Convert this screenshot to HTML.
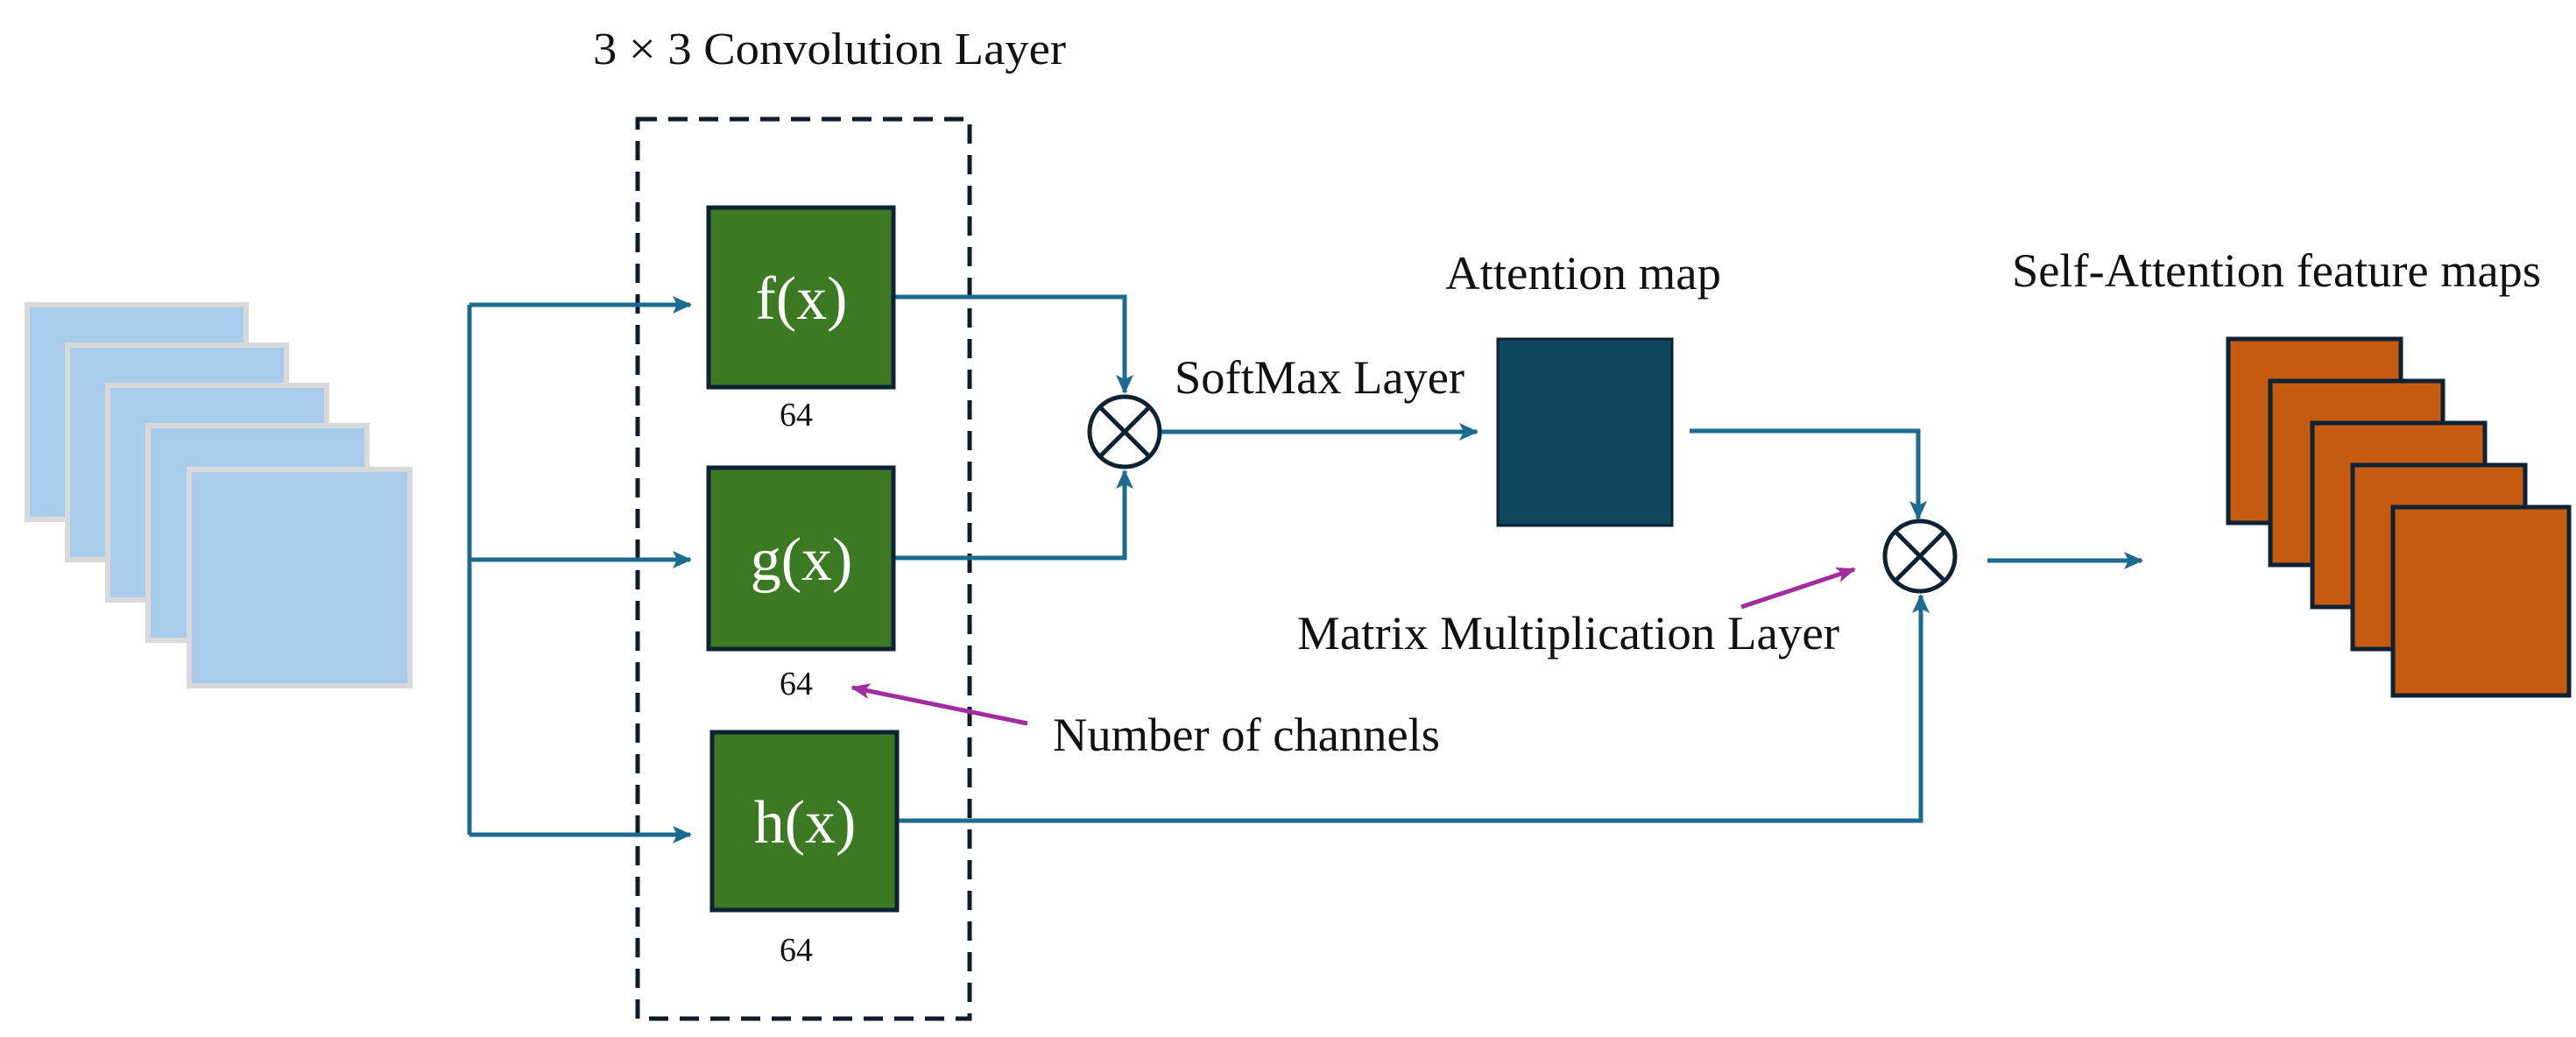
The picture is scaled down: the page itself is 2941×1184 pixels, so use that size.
<!DOCTYPE html>
<html><head><meta charset="utf-8"><style>html,body{margin:0;padding:0;background:#fff}svg{display:block}</style></head>
<body>
<svg width="2941" height="1184" viewBox="0 0 2941 1184" xmlns="http://www.w3.org/2000/svg" font-family="Liberation Serif, serif">
<defs>
<marker id="ab2" markerWidth="22" markerHeight="20" refX="20" refY="10" orient="auto" markerUnits="userSpaceOnUse"><path d="M0,0 L22,10 L0,20 L5,10 z" fill="#1b6a8f"/></marker>
<marker id="am" markerWidth="22" markerHeight="18" refX="20" refY="9" orient="auto" markerUnits="userSpaceOnUse"><path d="M0,0 L22,9 L0,18 L5,9 z" fill="#a12ca0"/></marker>
</defs>
<g fill="#a9cbec" stroke="#d9d9d9" stroke-width="6">
<rect x="31" y="348" width="250" height="245"/>
<rect x="77" y="394" width="250" height="245"/>
<rect x="123" y="440" width="250" height="245"/>
<rect x="169" y="486" width="250" height="245"/>
<rect x="216" y="536" width="252" height="247"/>
</g>
<text x="677" y="73" font-size="52" textLength="540" lengthAdjust="spacingAndGlyphs" fill="#111">3 × 3 Convolution Layer</text>
<rect x="728" y="136" width="379" height="1027" fill="none" stroke="#0d1b2a" stroke-width="5" stroke-dasharray="22,13"/>
<g stroke="#1b6a8f" stroke-width="5" fill="none">
<path d="M536,348 V953"/>
<path d="M536,348 H788" marker-end="url(#ab2)"/>
<path d="M536,639 H788" marker-end="url(#ab2)"/>
<path d="M536,953 H788" marker-end="url(#ab2)"/>
<path d="M1020,339 H1284 V448" marker-end="url(#ab2)"/>
<path d="M1020,637 H1284 V538" marker-end="url(#ab2)"/>
<path d="M1326,493 H1686" marker-end="url(#ab2)"/>
<path d="M1929,492 H2190 V592" marker-end="url(#ab2)"/>
<path d="M1024,937 H2193 V680" marker-end="url(#ab2)"/>
<path d="M2269,640 H2445" marker-end="url(#ab2)"/>
</g>
<g fill="#3b7a23" stroke="#0d2233" stroke-width="5">
<rect x="809" y="237" width="211" height="205"/>
<rect x="809" y="534" width="211" height="207"/>
<rect x="813" y="836" width="211" height="203"/>
</g>
<g fill="#fff" font-size="70" text-anchor="middle">
<text x="915" y="364">f(x)</text>
<text x="915" y="662">g(x)</text>
<text x="919" y="962">h(x)</text>
</g>
<g fill="#111" font-size="38" text-anchor="middle">
<text x="909" y="486">64</text>
<text x="909" y="793">64</text>
<text x="909" y="1097">64</text>
</g>
<g fill="#fff" stroke="#0d2233" stroke-width="5">
<circle cx="1284" cy="493" r="40"/>
<path d="M1256,465 L1312,521 M1312,465 L1256,521"/>
<circle cx="2192" cy="635" r="40"/>
<path d="M2164,607 L2220,663 M2220,607 L2164,663"/>
</g>
<g fill="#111" font-size="54">
<text x="1341" y="449" textLength="331" lengthAdjust="spacingAndGlyphs">SoftMax Layer</text>
<text x="1650" y="330" textLength="315" lengthAdjust="spacingAndGlyphs">Attention map</text>
<text x="1481" y="741" textLength="619" lengthAdjust="spacingAndGlyphs">Matrix Multiplication Layer</text>
<text x="1202" y="857" textLength="442" lengthAdjust="spacingAndGlyphs">Number of channels</text>
<text x="2297" y="327" textLength="604" lengthAdjust="spacingAndGlyphs">Self-Attention feature maps</text>
</g>
<rect x="1710" y="387" width="199" height="213" fill="#10475f" stroke="#0d2233" stroke-width="3"/>
<g stroke="#a12ca0" stroke-width="5" fill="none">
<path d="M1173,826 L973,785" marker-end="url(#am)"/>
<path d="M1988,693 L2117,650" marker-end="url(#am)"/>
</g>
<g fill="#c55a11" stroke="#0d2233" stroke-width="5">
<rect x="2544" y="387" width="197" height="210"/>
<rect x="2592" y="435" width="197" height="210"/>
<rect x="2640" y="483" width="197" height="210"/>
<rect x="2686" y="531" width="197" height="210"/>
<rect x="2732" y="579" width="201" height="215"/>
</g>
</svg>
</body></html>
